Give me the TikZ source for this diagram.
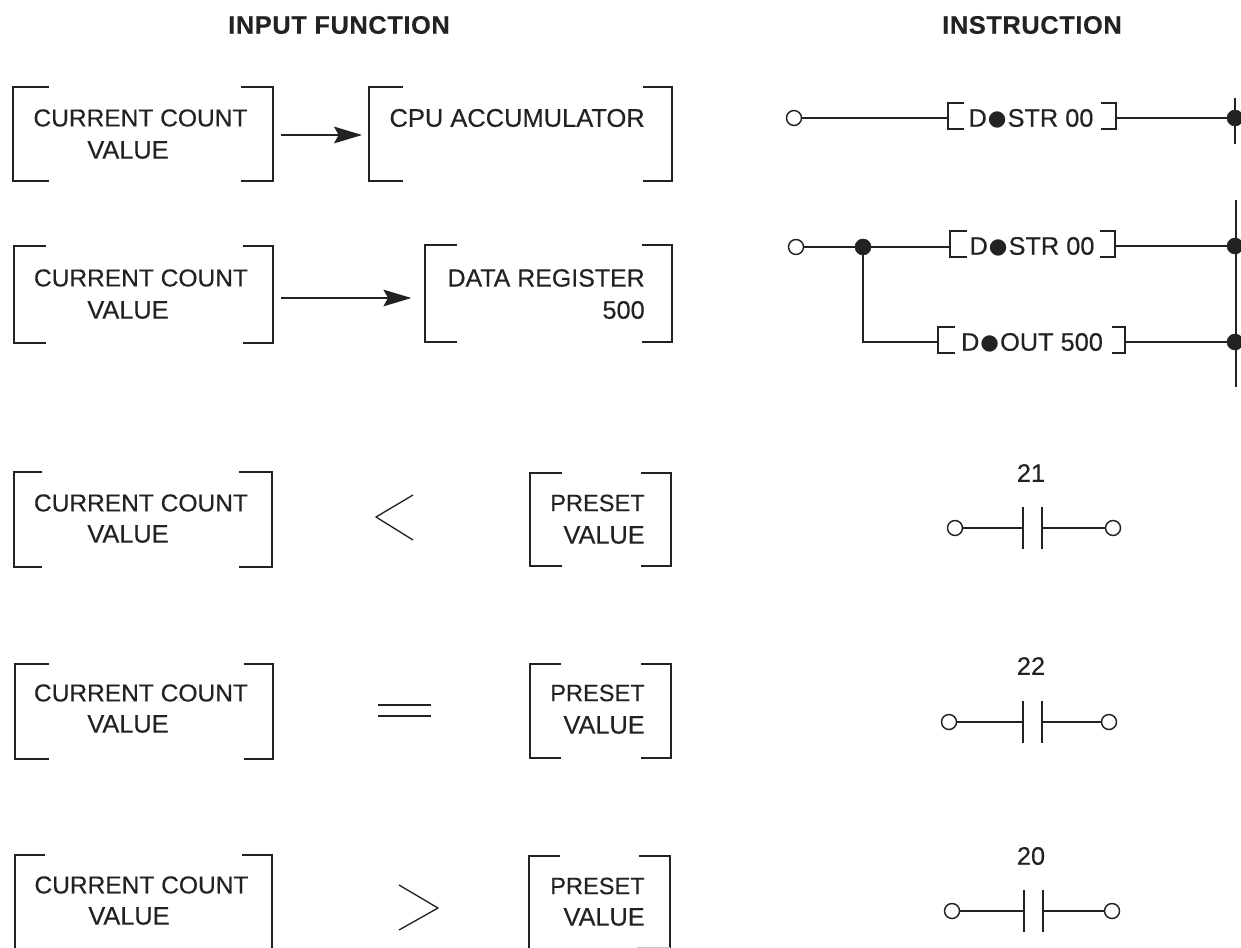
\documentclass[tikz,border=0pt]{standalone}
\usepackage{fontspec}
\setmainfont[FakeBold=0.4]{Liberation Sans}
\newfontfamily\headfont[LetterSpace=2.5,FakeBold=0.4]{Liberation Sans Bold}
\newfontfamily\dotfont{DejaVu Sans}
\usetikzlibrary{fit,arrows.meta}
\definecolor{ink}{HTML}{222222}
\tikzset{
  x=0.75pt,y=-0.75pt,
  wire/.style={draw=ink,line width=1.25pt},
  thinwire/.style={draw=ink,line width=1pt},
  lbl/.style={text=ink,font=\fontsize{18}{20}\selectfont,inner sep=0pt},
  cc/.style={lbl,font=\fontsize{18.4}{20}\selectfont},
  val/.style={lbl,font=\fontsize{19}{20}\selectfont},
  rung/.style={lbl,font=\fontsize{19}{20}\selectfont},
  preset/.style={lbl,anchor=east,font=\fontsize{17.7}{20}\selectfont},
  head/.style={text=ink,font=\fontsize{19}{20}\selectfont\headfont,inner sep=0pt},
  lbox/.style={inner sep=0pt},
  open/.style={circle,draw=ink,fill=white,line width=1.1pt,minimum size=11.25pt,inner sep=0pt},
  solid dot/.style={circle,fill=ink,draw=ink,minimum size=12pt,inner sep=0pt},
  flow/.style={wire,-{Stealth[length=21pt,width=12.5pt,inset=3.5pt]}},
}
% name, x1, y1, x2, y2, left tick, right tick
\newcommand\brk[7]{%
  \node[lbox,fit={(#2,#3)(#4,#5)}] (#1) {};
  \draw[wire] (#2+#6,#3) -- (#2,#3) -- (#2,#5) -- (#2+#6,#5);
  \draw[wire] (#4-#7,#3) -- (#4,#3) -- (#4,#5) -- (#4-#7,#5);
}
\newcommand\dbul{\kern.8pt\smash{\raisebox{1.2pt}{\fontsize{16}{16}\dotfont ●}}\kern.8pt}
\begin{document}
\begin{tikzpicture}
\useasboundingbox (0,0) rectangle (1241,948);
\node[head] (h1) at (339,25) {INPUT FUNCTION};
\node[head] (h2) at (1032,25) {INSTRUCTION};
% left column
\brk{b1}{13}{87}{273}{181}{36}{32}
\node[cc] (t1) at (140.5,118) {CURRENT COUNT};
\node[val] (t1b) at (128,150) {VALUE};
\brk{c1}{369}{87}{672}{181}{34}{29}
\node[lbl,anchor=east,font=\fontsize{19.1}{20}\selectfont] (t2) at (645,118) {CPU ACCUMULATOR};
\coordinate (a1s) at (281,135);
\draw[flow,shorten >=5pt] (a1s) -- (a1s -| c1.west);
\brk{b2}{14}{246}{273}{343}{32}{30}
\node[cc] (t3) at (141,278) {CURRENT COUNT};
\node[val] (t3b) at (128,310) {VALUE};
\brk{c2}{425}{245}{672}{342}{32}{30}
\node[lbl,anchor=east,font=\fontsize{18.7}{20}\selectfont] (t4) at (645,278) {DATA REGISTER};
\node[val,anchor=east] (t4b) at (645,310) {500};
\coordinate (a2s) at (281,298);
\draw[flow,shorten >=10pt] (a2s) -- (a2s -| c2.west);
\brk{b3}{14}{472}{272}{567}{28}{33}
\node[cc] (t5) at (141,503) {CURRENT COUNT};
\node[val] (t5b) at (128,534) {VALUE};
\draw[thinwire,line join=round] (413,495) -- (376,517) -- (413,540);
\brk{c3}{530}{473}{671}{566}{32}{30}
\node[preset] (t6) at (645,503) {PRESET};
\node[val,anchor=east] (t6b) at (645,535) {VALUE};
\brk{b4}{15}{664}{273}{759}{34}{29}
\node[cc] (t7) at (141,693) {CURRENT COUNT};
\node[val] (t7b) at (128,724) {VALUE};
\draw[thinwire] (378,705) -- (431,705) (378,716) -- (431,716);
\brk{c4}{530}{664}{671}{758}{31}{30}
\node[preset] (t8) at (645,693) {PRESET};
\node[val,anchor=east] (t8b) at (645,725) {VALUE};
\brk{b5}{15}{855}{272}{960}{30}{30}
\node[cc] (t9) at (141.5,885) {CURRENT COUNT};
\node[val] (t9b) at (129,916) {VALUE};
\draw[thinwire,line join=round] (399,885) -- (438,908) -- (399,930);
\brk{c5}{529}{856}{670}{960}{31}{31}
\node[preset] (t10) at (645,886) {PRESET};
\node[val,anchor=east] (t10b) at (645,917) {VALUE};
\coordinate (f1) at (637,947); \coordinate (f2) at (670,947);
\draw[draw=ink!25,line width=.6pt] (f1) -- (f2);
% ladder rung 1
\node[open] (o1) at (794,118) {};
\brk{r1}{948}{103}{1116}{129}{16}{15}
\node[rung] (r1t) at (1031,118) {D\dbul STR 00};
\node[solid dot] (j1) at (1235,118) {};
\coordinate (v1a) at (1235,98); \coordinate (v1b) at (1235,144);
\draw[wire] (o1) -- (o1 -| r1.west);
\draw[wire] (j1 -| r1.east) -- (j1);
\draw[wire] (v1a) -- (v1b);
% rung 2
\node[open] (o2) at (796,247) {};
\node[solid dot] (j2) at (863,247) {};
\brk{r2}{950}{231}{1115}{257}{17}{15}
\node[rung] (r2t) at (1032,246) {D\dbul STR 00};
\node[solid dot] (j3) at (1235,246) {};
\brk{r3}{938}{327}{1125}{353}{17}{13}
\node[rung] (r3t) at (1032,342) {D\dbul OUT 500};
\node[solid dot] (j4) at (1235,342) {};
\coordinate (v2a) at (1236,200); \coordinate (v2b) at (1236,387);
\draw[wire] (o2) -- (j2);
\draw[wire] (j2) -- (j2 -| r2.west);
\draw[wire] (j3 -| r2.east) -- (j3);
\draw[wire] (j2) |- (j4 -| r3.west);
\draw[wire] (j4 -| r3.east) -- (j4);
\draw[wire] (v2a) -- (v2b);
% contacts
\newcommand\contact[8]{%
  \node[val] (#1n) at (1031,#4) {#8};
  \node[open] (#1l) at (#2,#3) {};
  \node[open] (#1r) at (#7,#3) {};
  \coordinate (#1p) at (#5,#3); \coordinate (#1q) at (#6,#3);
  \draw[wire] (#1l) -- (#1p);
  \draw[wire] (#1q) -- (#1r);
  \draw[wire] (#5,#3-21) -- (#5,#3+21);
  \draw[wire] (#6,#3-21) -- (#6,#3+21);
}
\contact{k1}{955}{528}{473}{1023}{1042}{1113}{21}
\contact{k2}{949}{722}{666}{1023}{1042}{1109}{22}
\contact{k3}{952}{911}{856}{1024}{1043}{1112}{20}
\end{tikzpicture}
\end{document}
